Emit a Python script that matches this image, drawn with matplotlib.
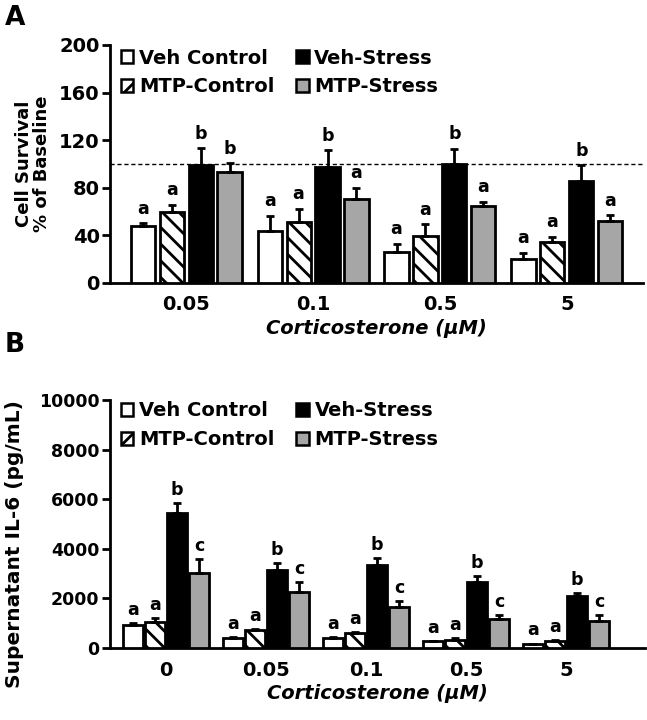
import matplotlib
matplotlib.use("Agg")
import matplotlib.pyplot as plt
import numpy as np
from matplotlib.patches import Patch

plt.rcParams['font.family'] = ['DejaVu Sans']
plt.rcParams['hatch.linewidth'] = 2.0

series = ["Veh Control", "MTP-Control", "Veh-Stress", "MTP-Stress"]

# Panel A: cell survival (% of baseline)
cats_a = ["0.05", "0.1", "0.5", "5"]
a_vc = [47.5, 43.5, 26.3, 20.5]
a_vc_err = [2.5, 13.0, 6.5, 5.0]
a_mc = [60.0, 51.0, 39.7, 34.5]
a_mc_err = [5.5, 11.5, 9.5, 4.5]
a_vs = [99.2, 97.2, 100.0, 86.0]
a_vs_err = [14.0, 14.5, 13.0, 13.0]
a_ms = [93.0, 70.6, 64.4, 52.0]
a_ms_err = [7.5, 9.5, 4.0, 5.0]
a_letters = [["a", "a", "b", "b"], ["a", "a", "b", "a"], ["a", "a", "b", "a"], ["a", "a", "b", "a"]]

# Panel B: supernatant IL-6 (pg/mL)
cats_b = ["0", "0.05", "0.1", "0.5", "5"]
b_vc = [930, 400, 400, 267, 160]
b_vc_err = [60, 25, 25, 20, 20]
b_mc = [1067, 707, 600, 333, 267]
b_mc_err = [130, 66, 40, 67, 40]
b_vs = [5440, 3160, 3333, 2680, 2100]
b_vs_err = [390, 280, 290, 220, 110]
b_ms = [3040, 2240, 1653, 1150, 1080]
b_ms_err = [560, 420, 240, 190, 240]
b_letters = [["a", "a", "b", "c"]] * 5

colors = ["white", "white", "black", "#a6a6a6"]
hatches = [None, "\\\\", None, None]
legend_hatches = [None, "//", None, None]

W, H = 647, 720
fig = plt.figure(figsize=(W / 100, H / 100), dpi=100)


def px_axes(left, right, top, bottom):
    return fig.add_axes([left / W, 1 - bottom / H, (right - left) / W, (bottom - top) / H])


def draw_panel(ax, cats, vals, errs, letters, width, pitch, ylim, yticks, xlim,
               letter_off, ytick_size, leg_anchor):
    x = np.arange(len(cats))
    for i in range(4):
        pos = x + (i - 1.5) * pitch
        ax.bar(pos, vals[i], width=width, color=colors[i], edgecolor="black",
               linewidth=2, hatch=hatches[i], zorder=3)
        ax.errorbar(pos, vals[i], yerr=[np.zeros(len(cats)), errs[i]], fmt="none",
                    ecolor="black", elinewidth=2, capsize=2.8, capthick=2, zorder=4)
        for j in range(len(cats)):
            ax.annotate(letters[j][i], (pos[j], vals[i][j] + errs[i][j]),
                        xytext=(0, letter_off), textcoords="offset points",
                        ha="center", va="bottom", fontsize=12.5, fontweight="bold")
    ax.set_xlim(*xlim)
    ax.set_ylim(*ylim)
    ax.set_yticks(yticks)
    ax.set_xticks(x)
    ax.set_xticklabels(cats)
    for s in ["top", "right"]:
        ax.spines[s].set_visible(False)
    for s in ["left", "bottom"]:
        ax.spines[s].set_linewidth(2)
    ax.tick_params(axis="y", length=6, width=2, labelsize=ytick_size, pad=1.5)
    ax.tick_params(axis="x", length=0, labelsize=14, pad=9)
    for lab in ax.get_xticklabels() + ax.get_yticklabels():
        lab.set_fontweight("bold")
    ax.set_xlabel("Corticosterone (\u03bcM)", fontsize=14, style="italic",
                  fontweight="bold", labelpad=3)
    handles = [Patch(facecolor=colors[i], edgecolor="black", linewidth=1.8,
                     hatch=legend_hatches[i], label=series[i]) for i in range(4)]
    leg = ax.legend(handles=handles, ncol=2, frameon=False,
                    loc="upper left", bbox_to_anchor=leg_anchor, fontsize=14,
                    handlelength=0.65, handleheight=0.65, handletextpad=0.3,
                    columnspacing=1.1, labelspacing=0.5, borderaxespad=0.0, borderpad=0.0)
    for t in leg.get_texts():
        t.set_fontweight("bold")


# Panel A
axA = px_axes(110, 643, 45, 283)
draw_panel(axA, cats_a, [a_vc, a_mc, a_vs, a_ms], [a_vc_err, a_mc_err, a_vs_err, a_ms_err],
           a_letters, 0.19, 0.228, (0, 200), [0, 40, 80, 120, 160, 200], (-0.6, 3.6), 4,
           14, (0.02, 0.985))
axA.axhline(100, color="black", linestyle=(0, (3, 2)), linewidth=1, zorder=2)
axA.set_ylabel("Cell Survival\n% of Baseline", fontsize=13, fontweight="bold", labelpad=6,
               linespacing=0.95)

# Panel B
axB = px_axes(110, 645, 400, 648)
draw_panel(axB, cats_b, [b_vc, b_mc, b_vs, b_ms], [b_vc_err, b_mc_err, b_vs_err, b_ms_err],
           b_letters, 0.2, 0.222, (0, 10000), [0, 2000, 4000, 6000, 8000, 10000], (-0.56, 4.79), 3,
           12.5, (0.02, 0.995))
axB.set_ylabel("Supernatant IL-6 (pg/mL)", fontsize=14.5, fontweight="bold", labelpad=2)
axB.yaxis.set_label_coords(-0.16, 0.42)

fig.text(5 / W, 1 - 18 / H, "A", fontsize=19, fontweight="bold", va="center", ha="left")
fig.text(5 / W, 1 - 345 / H, "B", fontsize=19, fontweight="bold", va="center", ha="left")

fig.savefig("out.png", dpi=100)
